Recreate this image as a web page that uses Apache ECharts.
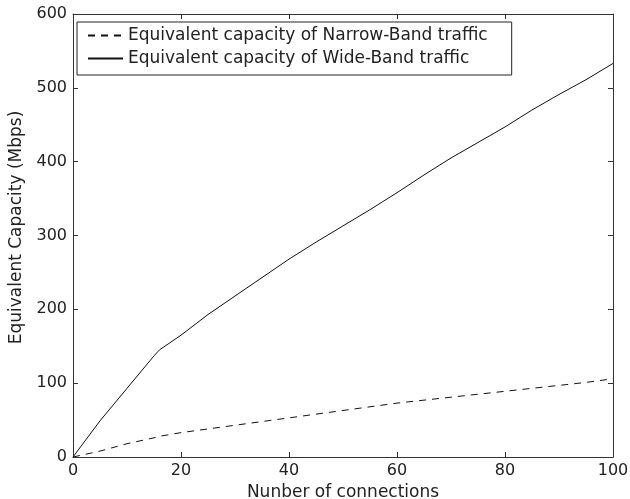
<!DOCTYPE html>
<html>
<head>
<meta charset="utf-8">
<script src="https://cdn.jsdelivr.net/npm/echarts@6/dist/echarts.min.js"></script>
<style>
  html, body { margin: 0; padding: 0; background: #fff; }
  #chart { width: 630px; height: 499px; }
</style>
</head>
<body>
<div id="chart"></div>
<script>
// connections (x) and equivalent capacity in Mbps
const connections = [0, 5, 10, 15, 16, 20, 25, 30, 35, 40, 45, 50, 55, 60, 65, 70, 75, 80, 85, 90, 95, 100];
const narrowBand = [0, 8, 18, 26, 28, 33, 38, 43, 48, 53, 58, 63, 68, 73, 77, 81, 85, 89, 93, 97, 101, 106];
const wideBand = [0, 49, 93, 137, 145, 165, 193, 218, 243, 268, 291, 313, 335, 358, 382, 405, 426, 447, 470, 491, 511, 533];
const xTicks = [0, 20, 40, 60, 80, 100];
const yTicks = [0, 100, 200, 300, 400, 500, 600];

const seriesNames = [
  "Equivalent capacity of Narrow-Band traffic",
  "Equivalent capacity of Wide-Band traffic",
];

const font = "DejaVu Sans";
const textColor = "#222";
const axisColor = "#333";

const pairs = (ys) => connections.map((x, i) => [x, ys[i]]);

const chart = echarts.init(document.getElementById("chart"), null, { renderer: "canvas" });

const baseX = {
  type: "value",
  min: 0,
  max: 100,
  interval: 20,
  splitLine: { show: false },
  axisLine: { show: true, onZero: false, lineStyle: { color: axisColor, width: 1 } },
  axisTick: { show: true, inside: true, length: 5, lineStyle: { color: axisColor } },
};
const baseY = {
  type: "value",
  min: 0,
  max: 600,
  interval: 100,
  splitLine: { show: false },
  axisLine: { show: true, onZero: false, lineStyle: { color: axisColor, width: 1 } },
  axisTick: { show: true, inside: true, length: 5, lineStyle: { color: axisColor } },
};

chart.setOption({
  animation: false,
  backgroundColor: "#fff",
  grid: { left: 73, right: 17, top: 14, bottom: 42, containLabel: false, outerBoundsMode: "none" },
  legend: {
    left: 77,
    top: 22,
    orient: "vertical",
    data: seriesNames,
    itemWidth: 35,
    itemHeight: 17,
    itemGap: 6,
    padding: [5, 24, 8, 10],
    backgroundColor: "#fff",
    borderColor: "#222",
    borderWidth: 1,
    borderRadius: 0,
    itemStyle: { opacity: 0 },
    textStyle: { fontFamily: font, fontSize: 17, color: textColor },
  },
  xAxis: [
    Object.assign({}, baseX, {
      position: "bottom",
      name: "Nunber of connections",
      nameLocation: "middle",
      nameGap: 24,
      nameTextStyle: { fontFamily: font, fontSize: 17, color: textColor },
      axisLabel: {
        fontFamily: font,
        fontSize: 16,
        color: textColor,
        margin: 6,
        formatter: (v) => (xTicks.includes(v) ? String(v) : ""),
      },
    }),
    Object.assign({}, baseX, { position: "top", axisLabel: { show: false } }),
  ],
  yAxis: [
    Object.assign({}, baseY, {
      position: "left",
      name: "Equivalent Capacity (Mbps)",
      nameLocation: "middle",
      nameGap: 46,
      nameTextStyle: { fontFamily: font, fontSize: 17, color: textColor, padding: [0, 0, 0, 16] },
      axisLabel: {
        fontFamily: font,
        fontSize: 16,
        color: textColor,
        margin: 6,
        formatter: (v) => (yTicks.includes(v) ? String(v) : ""),
      },
    }),
    Object.assign({}, baseY, { position: "right", axisLabel: { show: false } }),
  ],
  series: [
    {
      name: seriesNames[0],
      type: "line",
      xAxisIndex: 0,
      yAxisIndex: 0,
      data: pairs(narrowBand),
      showSymbol: false,
      symbol: "none",
      lineStyle: { color: "#111", width: 1, type: [7, 6] },
      itemStyle: { color: "#111" },
    },
    {
      name: seriesNames[1],
      type: "line",
      xAxisIndex: 0,
      yAxisIndex: 0,
      data: pairs(wideBand),
      showSymbol: false,
      symbol: "none",
      lineStyle: { color: "#111", width: 1 },
      itemStyle: { color: "#111" },
    },
  ],
});
</script>
</body>
</html>
